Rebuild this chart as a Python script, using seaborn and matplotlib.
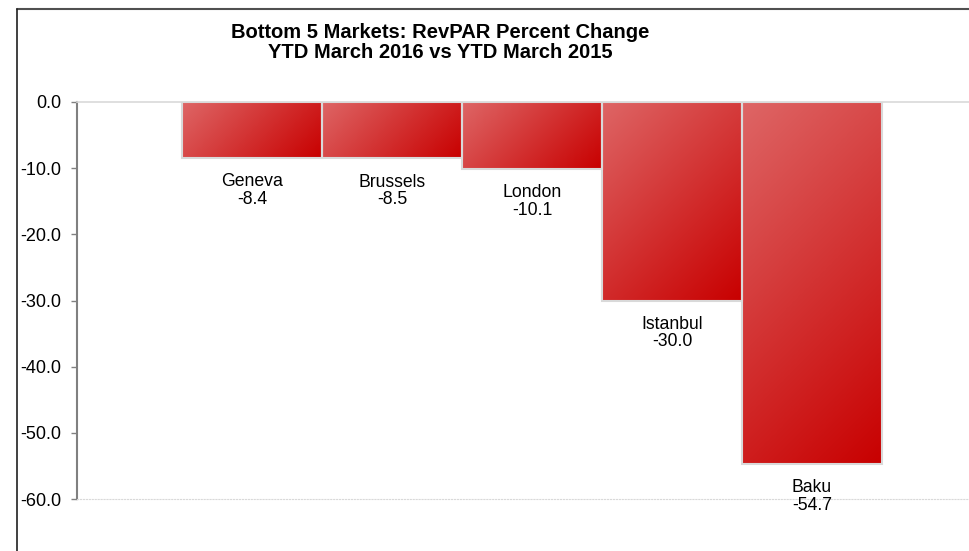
import numpy as np
import pandas as pd
import seaborn as sns
import matplotlib.pyplot as plt
from matplotlib.lines import Line2D

markets = ["Geneva", "Brussels", "London", "Istanbul", "Baku"]
revpar_change = [-8.4, -8.5, -10.1, -30.0, -54.7]
y_ticks = [0, -10, -20, -30, -40, -50, -60]

df = pd.DataFrame({"market": markets, "change": revpar_change})

sns.set_style("white")
plt.rcParams["font.family"] = ["Liberation Sans", "DejaVu Sans"]
plt.rcParams["text.color"] = "black"
plt.rcParams["ytick.labelcolor"] = "black"

W, H = 969, 551
fig = plt.figure(figsize=(W / 100, H / 100), dpi=100)
ax = fig.add_axes([77 / W, 1 - 499 / H, (W - 77) / W, (499 - 102) / H])

sns.barplot(data=df, x="market", y="change", width=1.0, ax=ax,
            color="#c00000", edgecolor="#d9d9d9", linewidth=1.5)

ax.set_xlim(-1.25, -0.5 + (W - 182) / 140)
ax.set_ylim(-60, 0)

# diagonal gradient fill (45 deg in screen space), light top-left -> dark red bottom-right
light = np.array([222, 102, 102]) / 255
dark = np.array([200, 0, 0]) / 255
px_per_x = 140.0
px_per_y = 397.0 / 60.0

for patch in ax.patches:
    x0 = patch.get_x()
    w = patch.get_width()
    h = patch.get_height()
    wp = abs(w) * px_per_x
    hp = abs(h) * px_per_y
    u = np.linspace(0, 1, 120)
    v = np.linspace(0, 1, 300)
    uu, vv = np.meshgrid(u, v)
    t = (uu * wp + vv * hp) / (wp + hp)
    grad = light[None, None, :] * (1 - t[..., None]) + dark[None, None, :] * t[..., None]
    patch.set_facecolor("none")
    patch.set_zorder(3)
    im = ax.imshow(grad, extent=[x0, x0 + w, h, 0], aspect="auto",
                   origin="upper", zorder=2)
    im.set_clip_path(patch)

for i, (name, val) in enumerate(zip(markets, revpar_change)):
    ax.annotate(f"{name}\n{val:.1f}", xy=(i, val), xytext=(0, -11),
                textcoords="offset points", ha="center", va="top",
                fontsize=12.7, color="black", linespacing=1.05)

ax.set_xlim(-1.25, -0.5 + (W - 182) / 140)
ax.set_ylim(-60, 0)
ax.set_yticks(y_ticks)
ax.set_yticklabels([f"{v:.1f}" for v in y_ticks], fontsize=13, color="black")
ax.set_xticks([])
ax.set_xlabel("")
ax.set_ylabel("")
ax.tick_params(axis="y", left=True, length=4, width=1, color="#808080", pad=7)

ax.spines["left"].set_color("#808080")
ax.spines["left"].set_linewidth(1.5)
ax.spines["top"].set_color("#d9d9d9")
ax.spines["top"].set_linewidth(1.2)
ax.spines["bottom"].set_color("#d9d9d9")
ax.spines["bottom"].set_linestyle(":")
ax.spines["right"].set_visible(False)

fig.text(440 / W, 1 - 32 / H, "Bottom 5 Markets: RevPAR Percent Change",
         ha="center", va="center", fontsize=14.5, fontweight="bold", color="black")
fig.text(440 / W, 1 - 52 / H, "YTD March 2016 vs YTD March 2015",
         ha="center", va="center", fontsize=14.5, fontweight="bold", color="black")

# outer frame
fig.add_artist(Line2D([17 / W, 1], [1 - 9 / H, 1 - 9 / H], color="#505050", lw=1.5))
fig.add_artist(Line2D([17 / W, 17 / W], [0, 1 - 9 / H], color="#202020", lw=1.2))

fig.savefig("out.png", dpi=100)
